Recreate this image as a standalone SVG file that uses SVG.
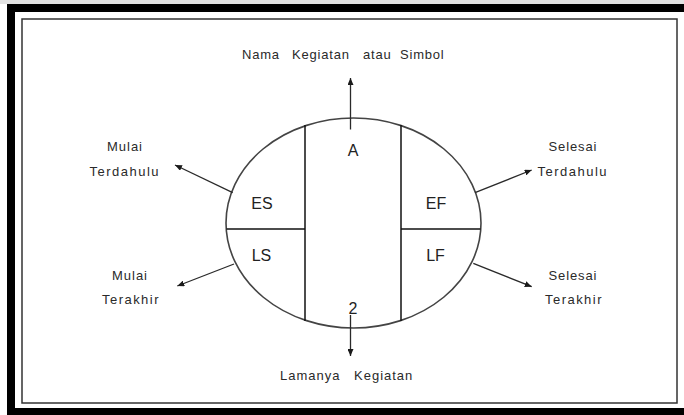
<svg xmlns="http://www.w3.org/2000/svg" width="684" height="415" viewBox="0 0 684 415">
  <style>
    .lbl { font-family: "Liberation Sans", Arial, sans-serif; font-size: 13px; fill: #2a2a2a; }
    .cell { font-family: "Liberation Sans", Arial, sans-serif; font-size: 16px; fill: #222; }
    .conn { stroke: #2a2a2a; stroke-width: 1.3; fill: none; marker-end: url(#ah); }
    .div { stroke: #111; stroke-width: 1.5; fill: none; }
  </style>
  <defs>
    <marker id="ah" markerUnits="userSpaceOnUse" markerWidth="7" markerHeight="6" refX="7" refY="3" orient="auto">
      <path d="M0,0 L7,3 L0,6 z" fill="#1a1a1a"/>
    </marker>
  </defs>

  <!-- frame -->
  <g id="frame">
    <rect x="0" y="0" width="684" height="415" fill="#ffffff"/>
    <rect x="0" y="0" width="684" height="4" fill="#e2e2e2"/>
    <rect x="7" y="4" width="677" height="411" fill="#000"/>
    <rect x="15" y="12" width="669" height="396" fill="#fff"/>
    <rect x="22" y="19" width="655" height="384" fill="none" stroke="#333" stroke-width="1.5"/>
  </g>

  <g id="node-activity">
    <ellipse cx="353.5" cy="223" rx="127.5" ry="105" fill="none" stroke="#444" stroke-width="1.6"/>
    <line class="div" x1="305" y1="125" x2="305" y2="321"/>
    <line class="div" x1="401" y1="125" x2="401" y2="321"/>
    <line class="div" x1="226.5" y1="229" x2="305" y2="229"/>
    <line class="div" x1="401" y1="229" x2="480.5" y2="229"/>
    <text class="cell" x="353" y="156" text-anchor="middle">A</text>
    <text class="cell" x="353" y="313.5" text-anchor="middle">2</text>
    <text class="cell" x="262" y="208.5" text-anchor="middle">ES</text>
    <text class="cell" x="436" y="208.5" text-anchor="middle">EF</text>
    <text class="cell" x="261.5" y="260.5" text-anchor="middle">LS</text>
    <text class="cell" x="435.5" y="260.5" text-anchor="middle">LF</text>
  </g>

  <g id="label-name">
    <text class="lbl" y="58.5" letter-spacing="0.8"><tspan x="242">Nama</tspan><tspan x="292">Kegiatan</tspan><tspan x="363">atau</tspan><tspan x="400">Simbol</tspan></text>
  </g>
  <g id="label-duration">
    <text class="lbl" y="379.5" letter-spacing="1"><tspan x="280">Lamanya</tspan><tspan x="354">Kegiatan</tspan></text>
  </g>
  <g id="label-es">
    <text class="lbl" x="107" y="151" textLength="35" lengthAdjust="spacing">Mulai</text>
    <text class="lbl" x="89.5" y="175.5" textLength="69" lengthAdjust="spacing">Terdahulu</text>
  </g>
  <g id="label-ls">
    <text class="lbl" x="112" y="279.5" textLength="35" lengthAdjust="spacing">Mulai</text>
    <text class="lbl" x="102" y="304" textLength="56.5" lengthAdjust="spacing">Terakhir</text>
  </g>
  <g id="label-ef">
    <text class="lbl" x="548.5" y="151" textLength="48" lengthAdjust="spacing">Selesai</text>
    <text class="lbl" x="537.5" y="175.5" textLength="69" lengthAdjust="spacing">Terdahulu</text>
  </g>
  <g id="label-lf">
    <text class="lbl" x="548.5" y="279.5" textLength="48" lengthAdjust="spacing">Selesai</text>
    <text class="lbl" x="545" y="304" textLength="56.5" lengthAdjust="spacing">Terakhir</text>
  </g>

  <g id="connectors">
    <line class="conn" x1="350.5" y1="129.5" x2="350.5" y2="78"/>
    <line class="conn" x1="350.5" y1="315" x2="350.5" y2="356"/>
    <line class="conn" x1="232.7" y1="192.7" x2="175" y2="165"/>
    <line class="conn" x1="234" y1="264" x2="177.3" y2="286"/>
    <line class="conn" x1="475" y1="192.7" x2="531.7" y2="170"/>
    <line class="conn" x1="473.3" y1="263.3" x2="531.7" y2="286.7"/>
  </g>
</svg>
